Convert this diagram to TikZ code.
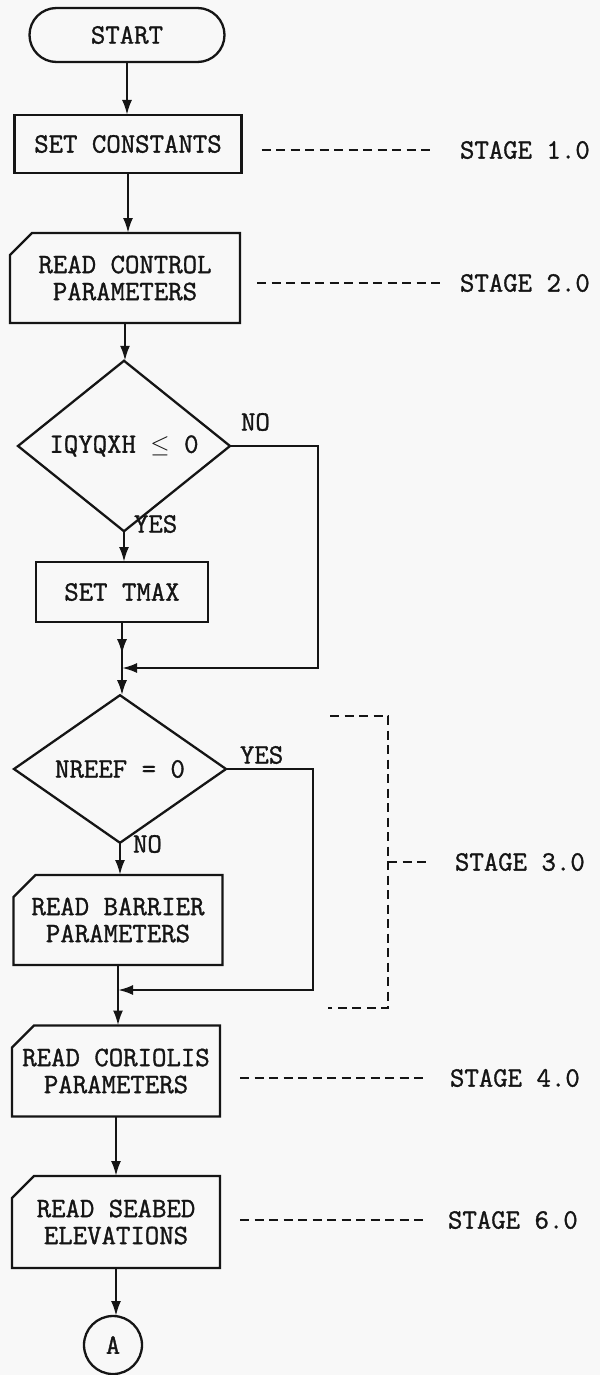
\documentclass[tikz,border=0pt]{standalone}
\usepackage{fontspec}
\setmonofont[FakeBold=1.2]{Latin Modern Mono}
\usetikzlibrary{arrows.meta,shapes.geometric,calc}
\definecolor{bgc}{HTML}{F8F8F8}
\definecolor{ink}{HTML}{151515}
\newcommand\readoutline[1]{\draw[ln] (#1.south west) -- (#1.south east) -- (#1.north east) -- ($(#1.north west)+(22,0)$) -- ($(#1.north west)+(0,22)$) -- cycle;}
\begin{document}
\begin{tikzpicture}[x=1pt,y=-1pt,
  every node/.style={font=\ttfamily\fontsize{28}{27}\selectfont,text=ink,outer sep=0pt},
  ln/.style={draw=ink,line width=2.3pt},
  arr/.style={ln,-{Latex[length=15pt,width=10pt]}},
  lead/.style={draw=ink,line width=2pt,dash pattern=on 9pt off 5.5pt},
  term/.style={draw=ink,line width=2.3pt,rectangle,rounded corners=27pt,inner sep=0pt,minimum width=195pt,minimum height=54pt},
  procbox/.style={draw=ink,line width=2.3pt,rectangle,inner sep=0pt,align=center},
  readbox/.style={rectangle,inner sep=0pt,align=center},
  decision/.style={draw=ink,line width=2.3pt,diamond,inner sep=0pt,minimum width=212pt,minimum height=122pt},
  lbl/.style={inner sep=0pt}]
\fill[bgc] (0,0) rectangle (600,1375);
\useasboundingbox (0,0) rectangle (600,1375);

% nodes
\node[term] (start) at (127,35) {START};
\node[procbox,minimum width=227pt,minimum height=58pt] (setc) at (128,144) {SET CONSTANTS};
\node[readbox,minimum width=230pt,minimum height=90pt] (rcp) at (125,278) {READ CONTROL\\PARAMETERS};
\readoutline{rcp}
\node[decision] (d1) at (124,446) {IQYQXH $\le$ 0};
\node[procbox,minimum width=172pt,minimum height=60pt] (tmax) at (122,592) {SET TMAX};
\node[decision] (d2) at (120,769) {NREEF = 0};
\node[readbox,minimum width=209pt,minimum height=90pt] (rbp) at (118,920) {READ BARRIER\\PARAMETERS};
\readoutline{rbp}
\node[readbox,minimum width=208pt,minimum height=91pt] (rcor) at (116,1071) {READ CORIOLIS\\PARAMETERS};
\readoutline{rcor}
\node[readbox,minimum width=208pt,minimum height=92pt] (rsb) at (116,1222) {READ SEABED\\ELEVATIONS};
\readoutline{rsb}
\node[circle,draw=ink,line width=2.3pt,minimum size=58pt,inner sep=0pt] (A) at (113,1345) {A};

% branch labels
\node[lbl,anchor=west] (lno1) at (241,422) {NO};
\node[lbl,anchor=west] (lyes1) at (134,524) {YES};
\node[lbl,anchor=west] (lyes2) at (240,755) {YES};
\node[lbl,anchor=west] (lno2) at (133,844) {NO};

% stage labels
\node[lbl,anchor=west] (s1) at (460,150) {STAGE 1.0};
\node[lbl,anchor=west] (s2) at (460,283) {STAGE 2.0};
\node[lbl,anchor=west] (s3) at (455,862) {STAGE 3.0};
\node[lbl,anchor=west] (s4) at (450,1078) {STAGE 4.0};
\node[lbl,anchor=west] (s6) at (448,1220) {STAGE 6.0};

% junction coordinates
\coordinate (j1) at (122,668);
\coordinate (no1) at (318,446);
\coordinate (j2) at (118,990);
\coordinate (yes2) at (313,769);

% main flow
\draw[arr] (start.south) -- (start.south |- setc.north);
\draw[arr] (setc.south) -- (setc.south |- rcp.north);
\draw[arr] (rcp.south) -- (rcp.south |- d1.north);
\draw[arr] (d1.south) -- (d1.south |- tmax.north);
\draw[ln] (tmax.south) -- (j1);
\draw[arr] (tmax.south) -- ($(tmax.south)!0.7!(j1)$);
\draw[arr] (d1.east) -- (no1) -- (no1 |- j1) -- (j1);
\draw[arr] (j1) -- (j1 |- d2.north);
\draw[arr] (d2.south) -- (d2.south |- rbp.north);
\draw[arr] (d2.east) -- (yes2) -- (yes2 |- j2) -- (j2);
\draw[ln] (rbp.south) -- (j2);
\draw[arr] (j2) -- (j2 |- rcor.north);
\draw[arr] (rcor.south) -- (rcor.south |- rsb.north);
\draw[arr] (rsb.south) -- (rsb.south |- A.north);

% stage leaders
\draw[lead] ($(setc.east |- s1.west)+(20,0)$) -- ($(s1.west)+(-25,0)$);
\draw[lead] ($(rcp.east |- s2.west)+(17,0)$) -- ($(s2.west)+(-20,0)$);
\draw[lead] ($(rcor.east |- s4.west)+(20,0)$) -- ($(s4.west)+(-22,0)$);
\draw[lead] ($(rsb.east |- s6.west)+(20,0)$) -- ($(s6.west)+(-25,0)$);

% stage 3 bracket
\coordinate (b1) at (330,716);
\coordinate (b2) at (388,716);
\coordinate (b3) at (388,1008);
\coordinate (b4) at (328,1008);
\coordinate (bt) at (388,862);
\draw[lead] (b1) -- (b2) -- (b3) -- (b4);
\draw[lead,shorten >=25pt] (bt) -- (bt -| s3.west);
\end{tikzpicture}
\end{document}
